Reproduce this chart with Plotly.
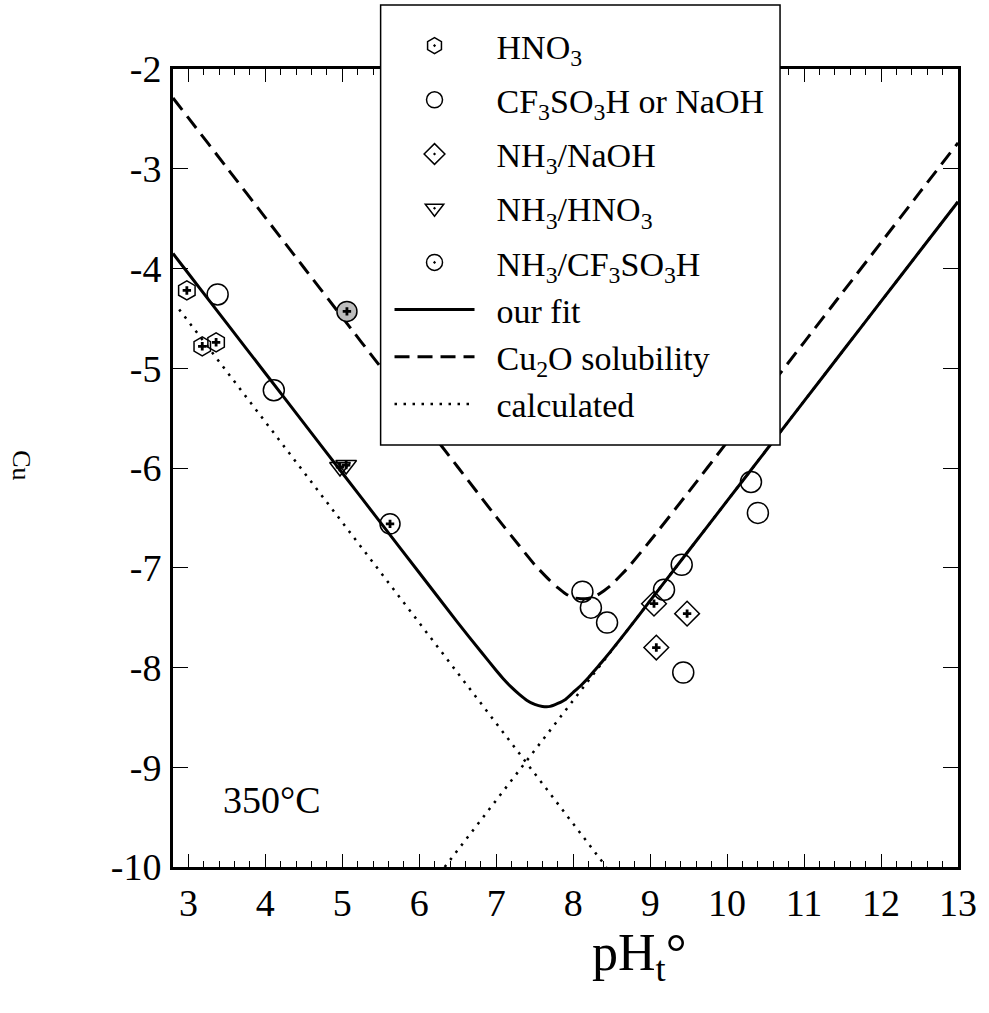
import plotly.graph_objects as go

# ---------------- data ----------------
hno3_x = [2.98, 3.18, 3.36]
hno3_y = [-4.22, -4.78, -4.74]

cf3_x = [3.38, 4.11, 8.12, 8.23, 8.44, 9.18, 9.41, 9.43, 10.31, 10.40]
cf3_y = [-4.26, -5.22, -7.24, -7.40, -7.55, -7.22, -6.97, -8.05, -6.14, -6.45]

nh3naoh_x = [9.05, 9.48, 9.08]
nh3naoh_y = [-7.36, -7.46, -7.80]

nh3hno3_x = [4.97, 5.05]
nh3hno3_y = [-5.99, -5.97]

nh3cf3_x = [5.62]
nh3cf3_y = [-6.56]

nh3cf3_gray_x = [5.06]
nh3cf3_gray_y = [-4.43]

fit_x = [2.8, 3.0, 3.5, 4.0, 4.5, 5.0, 5.5, 6.0, 6.5, 6.8, 7.0, 7.1, 7.2, 7.3, 7.4, 7.5,
         7.6, 7.7, 7.8, 7.9, 8.0, 8.1, 8.2, 8.3, 8.4, 8.7, 9.0, 9.5, 10.0, 10.5, 11.0,
         11.5, 12.0, 12.5, 13.0]
fit_y = [-3.85, -4.05, -4.55, -5.05, -5.55, -6.05, -6.55, -7.05, -7.55, -7.84, -8.03, -8.12,
         -8.20, -8.27, -8.33, -8.37, -8.39, -8.39, -8.36, -8.32, -8.25, -8.18, -8.10, -8.01,
         -7.92, -7.63, -7.33, -6.83, -6.33, -5.83, -5.33, -4.83, -4.33, -3.83, -3.33]

cu2o_x = [2.8, 3.0, 3.5, 4.0, 4.5, 5.0, 5.5, 6.0, 6.5, 7.0, 7.3, 7.5, 7.7, 7.8, 7.9, 8.0,
          8.1, 8.2, 8.3, 8.4, 8.5, 8.6, 8.7, 9.0, 9.5, 10.0, 10.5, 11.0, 11.5, 12.0, 12.5, 13.0]
cu2o_y = [-2.29, -2.49, -2.99, -3.49, -3.99, -4.49, -4.99, -5.49, -5.99, -6.49, -6.78, -6.97,
          -7.13, -7.20, -7.26, -7.30, -7.31, -7.31, -7.28, -7.23, -7.17, -7.09, -7.01, -6.73,
          -6.24, -5.74, -5.24, -4.74, -4.24, -3.74, -3.24, -2.74]

calc_x = [2.88, 8.43, None, 6.33, 13.0]
calc_y = [-4.41, -10.0, None, -10.0, -3.33]

x_ticks = [3, 4, 5, 6, 7, 8, 9, 10, 11, 12, 13]
y_ticks = [-10, -9, -8, -7, -6, -5, -4, -3, -2]
y_ticktext = ["-10", "-9", "-8", "-7", "-6", "-5", "-4", "-3", "-2"]

# ---------------- figure ----------------
FONT = "'Liberation Serif', 'Times New Roman', Times, 'DejaVu Serif', serif"
fig = go.Figure()
SP = "\u00a0\u00a0"

def marker_trace(x, y, name, symbol, size, group, rank):
    return go.Scatter(
        x=x, y=y, mode="markers", name=SP + name, legendgroup=group, legendrank=rank,
        marker=dict(symbol=symbol, size=size, color="black",
                    line=dict(color="black", width=1.5)),
    )

fig.add_trace(marker_trace(hno3_x, hno3_y, "HNO<sub>3</sub>", "hexagon-open-dot", 19, "g1", 1))
fig.add_trace(marker_trace(cf3_x, cf3_y, "CF<sub>3</sub>SO<sub>3</sub>H or NaOH", "circle-open", 21, "g2", 2))
fig.add_trace(marker_trace(nh3naoh_x, nh3naoh_y, "NH<sub>3</sub>/NaOH", "diamond-open-dot", 19, "g3", 3))
fig.add_trace(marker_trace(nh3hno3_x, nh3hno3_y, "NH<sub>3</sub>/HNO<sub>3</sub>", "triangle-down-open-dot", 18, "g4", 4))
fig.add_trace(marker_trace(nh3cf3_x, nh3cf3_y, "NH<sub>3</sub>/CF<sub>3</sub>SO<sub>3</sub>H", "circle-open-dot", 20, "g5", 5))

fig.add_trace(go.Scatter(x=fit_x, y=fit_y, mode="lines", name=SP + "our fit", legendgroup="g5",
                         legendrank=6, line=dict(color="black", width=3, shape="spline", smoothing=0.6)))
fig.add_trace(go.Scatter(x=cu2o_x, y=cu2o_y, mode="lines", name=SP + "Cu<sub>2</sub>O solubility",
                         legendgroup="g5", legendrank=7,
                         line=dict(color="black", width=3, dash="15px,8px", shape="spline", smoothing=0.6)))
fig.add_trace(go.Scatter(x=calc_x, y=calc_y, mode="lines", name=SP + "calculated", legendgroup="g5",
                         legendrank=8, line=dict(color="black", width=2.5, dash="2.5px,6.5px")))

# gray filled point
fig.add_trace(go.Scatter(x=nh3cf3_gray_x, y=nh3cf3_gray_y, mode="markers", showlegend=False,
                         marker=dict(symbol="circle", size=20, color="#bdbdbd",
                                     line=dict(color="black", width=1.5))))

# plus signs inside the cross-marked symbols
plus_x = hno3_x + nh3naoh_x + nh3hno3_x + nh3cf3_x + nh3cf3_gray_x
plus_y = hno3_y + nh3naoh_y + nh3hno3_y + nh3cf3_y + nh3cf3_gray_y
fig.add_trace(go.Scatter(x=plus_x, y=plus_y, mode="markers", showlegend=False,
                         marker=dict(symbol="cross", size=7, color="black", line=dict(width=0))))

# legend frame (white box covering the plot)
W, H = 989, 1013
L, R, T, B = 173, 967, 69, 867
pw, ph = R - L, B - T
def px(xp): return (xp - L) / pw
def py(yp): return (B - yp) / ph

fig.add_shape(type="rect", xref="paper", yref="paper",
              x0=px(383), x1=px(787), y0=py(445), y1=py(5),
              fillcolor="white", line=dict(color="black", width=1.5), layer="above")

fig.update_layout(
    width=W, height=H,
    margin=dict(l=L, r=W - R, t=T, b=H - B, pad=0),
    paper_bgcolor="white", plot_bgcolor="white",
    font=dict(family=FONT, color="black", size=36),
    showlegend=True,
    legend=dict(x=px(392), y=py(17), xanchor="left", yanchor="top",
                bgcolor="rgba(0,0,0,0)", borderwidth=0,
                font=dict(family=FONT, size=34, color="black"),
                itemwidth=80, tracegroupgap=7, traceorder="grouped",
                itemclick=False),
)

fig.update_xaxes(range=[2.8, 13], tickmode="array", tickvals=x_ticks,
                 ticktext=[str(v) for v in x_ticks],
                 showline=True, linewidth=3, linecolor="black", mirror="ticks",
                 ticks="inside", ticklen=13, tickwidth=1, tickcolor="black",
                 minor=dict(dtick=0.2, tick0=3, ticks="inside", ticklen=6, tickwidth=1,
                            tickcolor="black", showgrid=False),
                 showgrid=False, zeroline=False, ticklabelstandoff=0,
                 tickfont=dict(family=FONT, size=38))
fig.update_yaxes(range=[-10, -2], tickmode="array", tickvals=y_ticks, ticktext=y_ticktext,
                 showline=True, linewidth=3, linecolor="black", mirror="ticks",
                 ticks="inside", ticklen=15, tickwidth=1, tickcolor="black",
                 showgrid=False, zeroline=False, ticklabelstandoff=1,
                 tickfont=dict(family=FONT, size=38))

fig.add_annotation(text="pH<sub>t</sub>°", xref="paper", yref="paper",
                   x=px(644), y=py(956), xanchor="center", yanchor="middle",
                   showarrow=False, font=dict(family=FONT, size=52))
fig.add_annotation(text="Cu", xref="paper", yref="paper",
                   x=px(20), y=py(465), xanchor="center", yanchor="middle",
                   textangle=90, showarrow=False, font=dict(family=FONT, size=26))
fig.add_annotation(text="350°C", x=4.09, y=-9.33, xref="x", yref="y",
                   showarrow=False, font=dict(family=FONT, size=38))

fig.write_html("out.html")
